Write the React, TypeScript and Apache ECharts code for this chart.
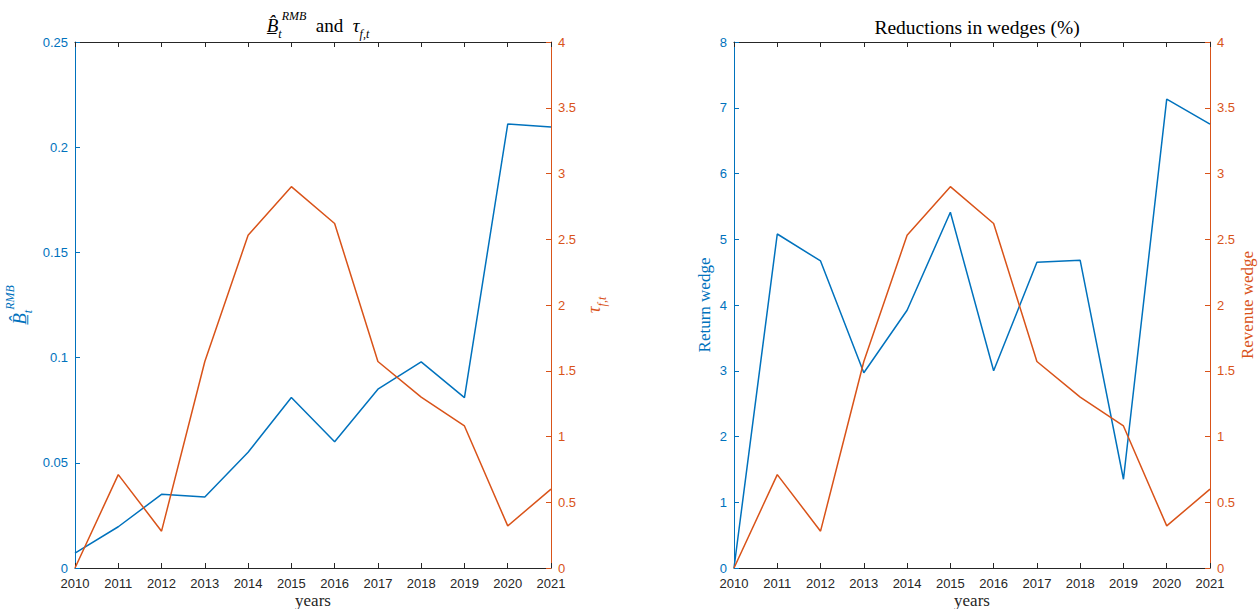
import React, { useEffect, useRef } from "react";
import * as echarts from "echarts";

const years = [2010, 2011, 2012, 2013, 2014, 2015, 2016, 2017, 2018, 2019, 2020, 2021];
const bRmb = [0.0071, 0.0196, 0.035, 0.0337, 0.055, 0.081, 0.06, 0.085, 0.098, 0.081, 0.211, 0.2096];
const tauFt = [0, 0.71, 0.28, 1.57, 2.53, 2.9, 2.62, 1.57, 1.3, 1.08, 0.32, 0.6];
const returnWedge = [0, 5.08, 4.67, 2.97, 3.92, 5.41, 3.0, 4.65, 4.68, 1.35, 7.13, 6.75];
const revenueWedge = [0, 0.71, 0.28, 1.57, 2.53, 2.9, 2.62, 1.57, 1.3, 1.08, 0.32, 0.6];
const yearTicks = years.map(String);

const BLUE = "#0072BD";
const ORANGE = "#D95319";
const GRAY = "#262626";
const SANS = "'Liberation Sans', Arial, Helvetica, sans-serif";
const SERIF = "'Liberation Serif', 'Times New Roman', serif";

const pairs = (vals: number[]) => years.map((y, i) => [y, vals[i]]);

export default function App() {
  const ref = useRef<HTMLDivElement>(null);
  useEffect(() => {
    if (!ref.current) return;
    const chart = echarts.init(ref.current, undefined, { renderer: "svg" });
    const xAxisBase = (gridIndex: number) => ({
      type: "value" as const,
      gridIndex,
      min: 2010,
      max: 2021,
      interval: 1,
      position: "bottom" as const,
      axisLine: { show: true, onZero: false, lineStyle: { color: GRAY, width: 1 } },
      axisTick: { show: true, inside: true, length: 5, lineStyle: { color: GRAY } },
      axisLabel: {
        color: GRAY,
        fontFamily: SANS,
        fontSize: 13,
        margin: 9,
        formatter: (v: number) => yearTicks[years.indexOf(v)] ?? String(v),
      },
      splitLine: { show: false },
      name: "years",
      nameLocation: "middle" as const,
      nameGap: 24,
      nameMoveOverlap: false,
      nameTextStyle: { color: GRAY, fontFamily: SERIF, fontSize: 17, lineHeight: 17 },
    });
    const xAxisTop = (gridIndex: number) => ({
      type: "value" as const,
      gridIndex,
      min: 2010,
      max: 2021,
      interval: 1,
      position: "top" as const,
      axisLine: { show: true, onZero: false, lineStyle: { color: GRAY, width: 1 } },
      axisTick: { show: true, inside: true, length: 5, lineStyle: { color: GRAY } },
      axisLabel: { show: false },
      splitLine: { show: false },
    });
    const yAxis = (
      gridIndex: number,
      position: "left" | "right",
      color: string,
      max: number,
      interval: number,
      name: string,
      nameGap: number,
      rich?: any
    ) => ({
      type: "value" as const,
      gridIndex,
      position,
      min: 0,
      max,
      interval,
      axisLine: { show: true, onZero: false, lineStyle: { color, width: 1 } },
      axisTick: { show: true, inside: true, length: 5, lineStyle: { color } },
      axisLabel: { color, fontFamily: SANS, fontSize: 13, margin: 7 },
      splitLine: { show: false },
      name,
      nameLocation: "middle" as const,
      nameGap,
      nameMoveOverlap: false,
      nameTextStyle: { color, fontFamily: SERIF, fontSize: 17, fontWeight: "normal", rich },
    });

    const richBase = (color: string) => ({
      b: { fontFamily: SERIF, fontSize: 19, fontStyle: "italic", fontWeight: "normal", color, lineHeight: 30 },
      sub: { fontFamily: SERIF, fontSize: 12, fontStyle: "italic", fontWeight: "normal", color, verticalAlign: "bottom", lineHeight: 30 },
      sup: { fontFamily: SERIF, fontSize: 12, fontStyle: "italic", fontWeight: "normal", color, verticalAlign: "top", lineHeight: 30 },
      n: { fontFamily: SERIF, fontSize: 19, fontWeight: "normal", color, lineHeight: 30 },
    });

    chart.setOption({
      animation: false,
      backgroundColor: "#ffffff",
      title: [
        {
          text: "{b|B\u0332\u0302}{sub|t}{sup|RMB}{n|  and  }{b|τ}{sub|f,t}",
          left: 313,
          top: 5,
          textAlign: "center",
          textStyle: { fontWeight: "normal", rich: richBase("#000000") },
        },
        {
          text: "Reductions in wedges (%)",
          left: 972,
          top: 12,
          textAlign: "center",
          textStyle: { fontFamily: SERIF, fontSize: 19.5, fontWeight: "normal", color: "#000000" },
        },
      ],
      grid: [
        { left: 75, right: 708, top: 42, bottom: 41, containLabel: false, outerBoundsMode: "none" },
        { left: 734, right: 49, top: 42, bottom: 41, containLabel: false, outerBoundsMode: "none" },
      ],
      xAxis: [xAxisBase(0), xAxisTop(0), xAxisBase(1), xAxisTop(1)],
      yAxis: [
        yAxis(0, "left", BLUE, 0.25, 0.05, "{b|B\u0332\u0302}{sub|t}{sup|RMB}", 41, richBase(BLUE)),
        yAxis(0, "right", ORANGE, 4, 0.5, "{b|τ}{sub|f,t}", 27, richBase(ORANGE)),
        yAxis(1, "left", BLUE, 8, 1, "Return wedge", 21),
        yAxis(1, "right", ORANGE, 4, 0.5, "Revenue wedge", 29),
      ],
      series: [
        { type: "line", xAxisIndex: 0, yAxisIndex: 0, data: pairs(bRmb), showSymbol: false, lineStyle: { color: BLUE, width: 1.5 }, itemStyle: { color: BLUE } },
        { type: "line", xAxisIndex: 0, yAxisIndex: 1, data: pairs(tauFt), showSymbol: false, lineStyle: { color: ORANGE, width: 1.5 }, itemStyle: { color: ORANGE } },
        { type: "line", xAxisIndex: 2, yAxisIndex: 2, data: pairs(returnWedge), showSymbol: false, lineStyle: { color: BLUE, width: 1.5 }, itemStyle: { color: BLUE } },
        { type: "line", xAxisIndex: 2, yAxisIndex: 3, data: pairs(revenueWedge), showSymbol: false, lineStyle: { color: ORANGE, width: 1.5 }, itemStyle: { color: ORANGE } },
      ],
    });
    return () => chart.dispose();
  }, []);
  return (
    <div
      ref={ref}
      style={{ position: "fixed", left: 0, top: 0, width: 1259, height: 609, background: "#fff" }}
    />
  );
}
